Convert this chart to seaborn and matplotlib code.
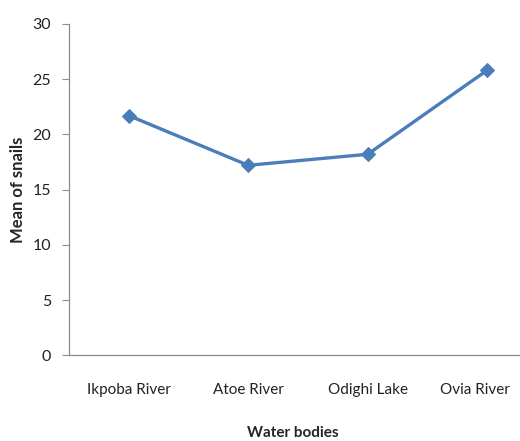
import matplotlib
matplotlib.use("Agg")
import matplotlib.pyplot as plt
import matplotlib.transforms as mtransforms
import seaborn as sns
import pandas as pd

# data
water_bodies = ["Ikpoba River", "Atoe River", "Odighi Lake", "Ovia River"]
mean_snails = [21.7, 17.2, 18.2, 25.8]
y_ticks = [0, 5, 10, 15, 20, 25, 30]

df = pd.DataFrame({"Water bodies": water_bodies, "Mean of snails": mean_snails})

sns.set_theme(style="white")
plt.rcParams["font.family"] = ["Lato", "DejaVu Sans"]

fig = plt.figure(figsize=(5.2, 4.41), dpi=100)
ax = fig.add_axes([0.1327, 0.194, 0.919, 0.752])

sns.lineplot(data=df, x="Water bodies", y="Mean of snails", sort=False,
             color="#4A7EBB", linewidth=2.4, marker="D", markersize=7,
             markeredgecolor="#4A7EBB", ax=ax)

ax.set_xlim(-0.5, 3.5)
ax.set_ylim(0, 30)
ax.set_yticks(y_ticks)
ax.tick_params(axis="y", direction="out", length=5, width=0.8, color="#8c8c8c",
               labelsize=11.5, labelcolor="#222222", pad=8, left=True)
ax.tick_params(axis="x", length=0, labelsize=11, labelcolor="#222222", pad=20)

# last category label is pulled left so it stays inside the figure
last = ax.get_xticklabels()[-1]
last.set_transform(last.get_transform() +
                   mtransforms.ScaledTranslation(-0.12, 0, fig.dpi_scale_trans))

for s in ["top", "right"]:
    ax.spines[s].set_visible(False)
for s in ["left", "bottom"]:
    ax.spines[s].set_color("#8c8c8c")
    ax.spines[s].set_linewidth(0.9)

ax.set_xlabel("Water bodies", fontsize=11, fontweight="bold")
ax.set_ylabel("Mean of snails", fontsize=12, fontweight="bold")
ax.xaxis.set_label_coords((293 - 69) / 478, (355.5 - 433) / 331.5)
ax.xaxis.label.set_va("center")
ax.yaxis.set_label_coords((18 - 69) / 478, 0.5)
ax.yaxis.label.set_va("center")

fig.savefig("out.png", dpi=100)
